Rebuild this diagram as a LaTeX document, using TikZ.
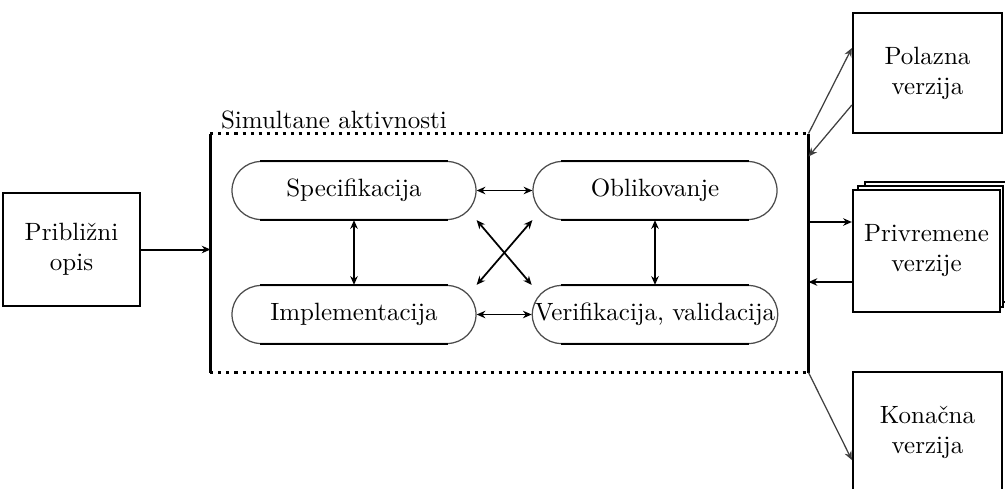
\documentclass[tikz,border=0pt]{standalone}
\usetikzlibrary{arrows.meta}
\begin{document}
\begin{tikzpicture}[x=0.4pt,y=-0.4pt,
  box/.style={draw, line width=0.9pt, minimum width=59.6pt, minimum height=48pt, align=center, inner sep=2pt, fill=white},
  stad/.style={draw=black!70, line width=0.5pt, rounded corners=11.6pt, minimum width=97.6pt, minimum height=23.2pt, inner sep=1pt},
  inarr/.style={{Stealth[length=3.5pt,width=3pt]}-{Stealth[length=3.5pt,width=3pt]}, line width=0.7pt},
  outarr/.style={-{Stealth[length=3.5pt,width=3pt]}, line width=0.5pt, black!75},
  solidarr/.style={-{Stealth[length=3.5pt,width=3pt]}, line width=0.8pt}]
\useasboundingbox (0,0) rectangle (1005,488);
% left box
\node[box, minimum width=54.8pt, minimum height=45.2pt] (lb) at (71.5,249.5) {Približni\\opis};
% simultaneous activities frame
\node[minimum width=238.8pt, minimum height=95.2pt, inner sep=0pt] (sim) at (509.5,253) {};
\draw[line width=0.9pt] (sim.north west) -- (sim.south west);
\draw[line width=0.9pt] (sim.north east) -- (sim.south east);
\draw[line width=1.2pt, dotted] (sim.north west) -- (sim.north east);
\draw[line width=1.2pt, dotted] (sim.south west) -- (sim.south east);
\node[anchor=south west, inner sep=1pt] (simlab) at (218,132) {Simultane aktivnosti};
% stadium nodes
\node[stad] (spec) at (354,190.5) {Specifikacija};
\node[stad] (obl) at (655,190.5) {Oblikovanje};
\node[stad] (impl) at (354,314.5) {Implementacija};
\node[stad] (ver) at (655,314.5) {Verifikacija, validacija};
\foreach \n in {spec,obl,impl,ver}{
  \draw[line width=0.9pt] ([xshift=11.6pt]\n.north west) -- ([xshift=-11.6pt]\n.north east);
  \draw[line width=0.9pt] ([xshift=11.6pt]\n.south west) -- ([xshift=-11.6pt]\n.south east);
}
% inner arrows
\draw[inarr] (spec.east) -- (obl.west);
\draw[inarr] (impl.east) -- (ver.west);
\draw[inarr] (spec.south) -- (impl.north);
\draw[inarr] (obl.south) -- (ver.north);
\draw[inarr] (spec.south east) -- (ver.north west);
\draw[inarr] (obl.south west) -- (impl.north east);
% right boxes
\node[box] (pol) at (927.5,73) {Polazna\\verzija};
\node[box, minimum width=56.4pt, minimum height=48pt] (pr3) at (935.5,242) {};
\node[box, minimum width=58pt, minimum height=48.4pt] (pr2) at (930.5,246.5) {};
\node[box, minimum width=58.8pt, minimum height=48.8pt] (pr) at (926.5,251) {Privremene\\verzije};
\node[box] (kon) at (927.5,432) {Konačna\\verzija};
% outer arrows
\draw[solidarr] (lb.east) -- (lb.east -| sim.west);
\draw[outarr] (sim.north east) -- ([yshift=10pt]pol.west);
\draw[outarr] ([yshift=-12.8pt]pol.west) -- ([yshift=-9.2pt]sim.north east);
\draw[solidarr] ([yshift=11.6pt]pr.west -| sim.east) -- ([yshift=11.6pt]pr.west);
\draw[solidarr] ([yshift=-12.4pt]pr.west) -- ([yshift=-12.4pt]pr.west -| sim.east);
\draw[outarr] (sim.south east) -- ([yshift=-11.2pt]kon.west);
\end{tikzpicture}
\end{document}
